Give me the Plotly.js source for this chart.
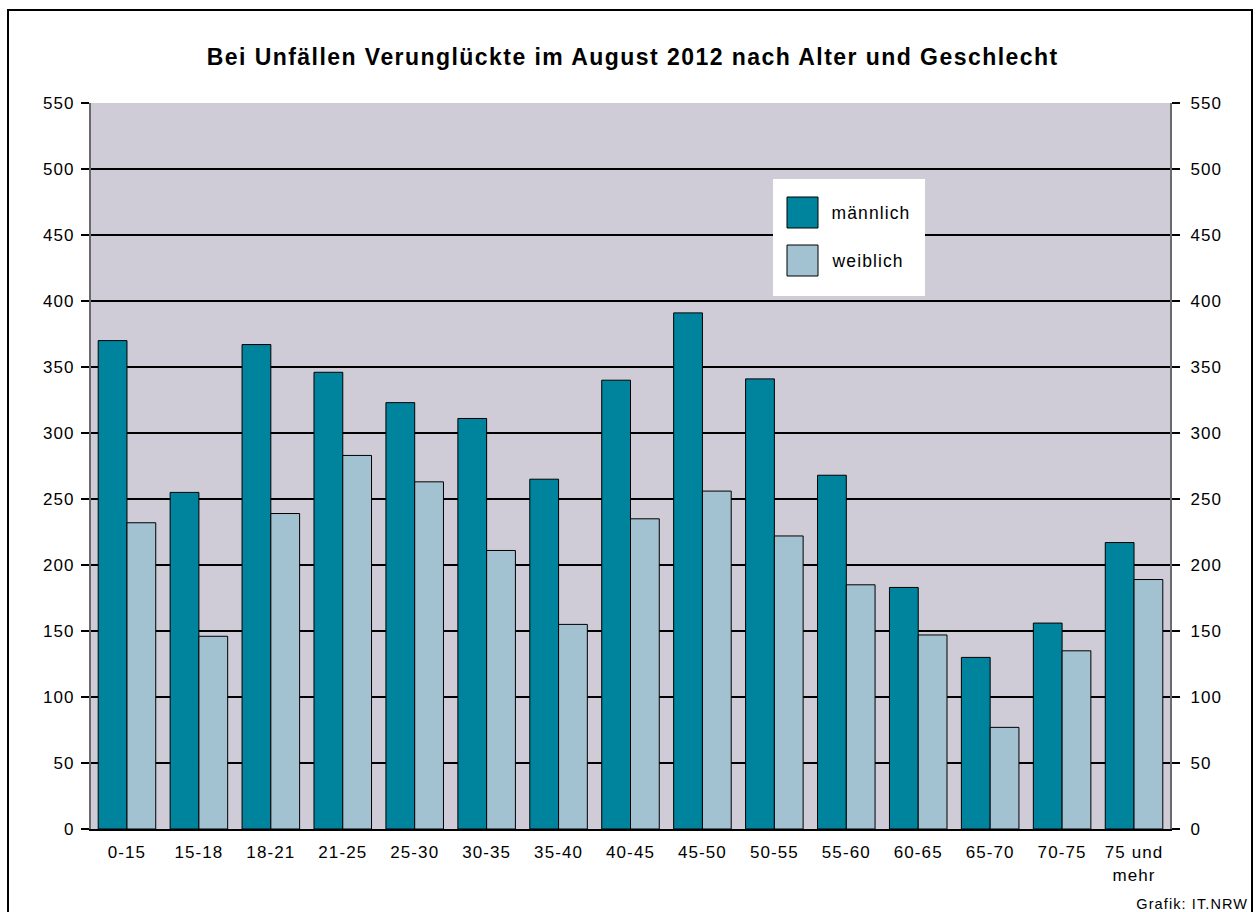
<!DOCTYPE html>
<html><head><meta charset="utf-8">
<script src="https://cdn.plot.ly/plotly-3.0.1.min.js"></script>
<style>
body{margin:0;padding:0;background:#fff;}
#wrap{position:relative;width:1257px;height:912px;overflow:hidden;}
#chart{width:1257px;height:912px;}
#frame{position:absolute;left:7px;top:9px;width:1246px;height:1000px;border:2px solid #000;box-sizing:border-box;pointer-events:none;}
#chart text{letter-spacing:1.1px;}
#chart .gtitle{letter-spacing:1.45px;}
</style></head><body>
<div id="wrap"><div id="chart"></div><div id="frame"></div></div>
<script>
// ---- data ----
const categories = ['0-15','15-18','18-21','21-25','25-30','30-35','35-40','40-45','45-50','50-55','55-60','60-65','65-70','70-75','75 und<br>mehr'];
const maennlich = [370,255,367,346,323,311,265,340,391,341,268,183,130,156,217];
const weiblich  = [232,146,239,283,263,211,155,235,256,222,185,147,77,135,189];
const yTicks = [0,50,100,150,200,250,300,350,400,450,500,550];
const seriesNames = ['männlich','weiblich'];
const titleText = 'Bei Unfällen Verunglückte im August 2012 nach Alter und Geschlecht';
const sourceText = 'Grafik: IT.NRW';

// ---- style ----
const colMale = '#00839C';
const colFemale = '#A2C1D1';
const plotBg = '#CFCCD8';
const FONT = 'Liberation Sans, Arial, sans-serif';

// plot-area geometry in pixels (for legend/annotation placement)
const L = 91, R = 1170, T = 103, B = 829;
const px = p => (p - L) / (R - L);
const py = p => (B - p) / (B - T);

const traces = [
  {type:'bar', name:seriesNames[0], x:categories, y:maennlich,
   marker:{color:colMale, line:{color:'#000', width:1}}, showlegend:false},
  {type:'bar', name:seriesNames[1], x:categories, y:weiblich,
   marker:{color:colFemale, line:{color:'#000', width:1}}, showlegend:false},
  {type:'scatter', x:[], y:[], yaxis:'y2', showlegend:false, hoverinfo:'skip'}
];

const yCommon = {
  range:[0,550], tickvals:yTicks, ticktext:yTicks.map(String),
  ticks:'outside', ticklen:8, tickwidth:1.5, tickcolor:'#000',
  tickfont:{family:FONT, size:17, color:'#000'},
  showline:true, linecolor:'#6a6a6a', linewidth:2,
  zeroline:false, fixedrange:true
};

const layout = {
  width:1257, height:912,
  paper_bgcolor:'#fff', plot_bgcolor:plotBg,
  margin:{l:L, r:1257-R, t:T, b:912-B, pad:0},
  title:{text:'<b>'+titleText+'</b>', font:{family:FONT, size:23, color:'#000'},
         x:0.502, xanchor:'center', y:1-57/912, yanchor:'middle', xref:'paper'},
  barmode:'group', bargap:0.2, bargroupgap:0,
  xaxis:{type:'category', ticks:'', showline:true, linecolor:'#000', linewidth:2,
         ticklabelstandoff:7,
         tickfont:{family:FONT, size:17, color:'#000'}, fixedrange:true},
  yaxis:Object.assign({}, yCommon, {showgrid:true, gridcolor:'#000', gridwidth:1.3, ticklabelstandoff:3}),
  yaxis2:Object.assign({}, yCommon, {overlaying:'y', side:'right', anchor:'x', showgrid:false, ticklabelstandoff:7}),
  shapes:[
    {type:'rect', xref:'paper', yref:'paper', x0:px(773), x1:px(925), y0:py(296), y1:py(179),
     fillcolor:'#fff', line:{width:0}, layer:'above'},
    {type:'rect', xref:'paper', yref:'paper', x0:px(787), x1:px(818), y0:py(228), y1:py(197),
     fillcolor:colMale, line:{color:'#000', width:1}, layer:'above'},
    {type:'rect', xref:'paper', yref:'paper', x0:px(787), x1:px(818), y0:py(276), y1:py(245),
     fillcolor:colFemale, line:{color:'#000', width:1}, layer:'above'}
  ],
  annotations:[
    {xref:'paper', yref:'paper', x:px(834), y:py(213), xanchor:'left', yanchor:'middle',
     text:seriesNames[0], showarrow:false, font:{family:FONT, size:17.5, color:'#000'}},
    {xref:'paper', yref:'paper', x:px(834), y:py(261), xanchor:'left', yanchor:'middle',
     text:seriesNames[1], showarrow:false, font:{family:FONT, size:17.5, color:'#000'}},
    {xref:'paper', yref:'paper', x:px(1243), y:py(904), xanchor:'right', yanchor:'middle',
     text:sourceText, showarrow:false, font:{family:FONT, size:14.5, color:'#000'}}
  ]
};

Plotly.newPlot('chart', traces, layout, {staticPlot:true, displayModeBar:false});
</script>
</body></html>
